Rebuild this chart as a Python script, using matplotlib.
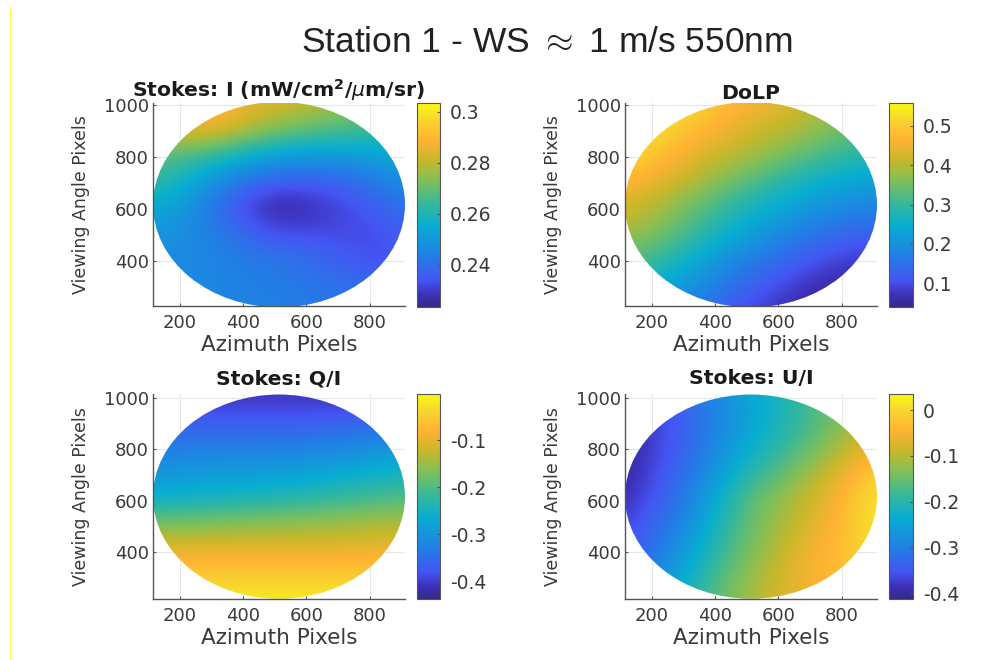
import matplotlib
matplotlib.use("Agg")
import numpy as np
import matplotlib.pyplot as plt
from matplotlib.colors import LinearSegmentedColormap
from matplotlib.patches import Ellipse
from matplotlib.lines import Line2D

plt.rcParams['font.family'] = ['DejaVu Sans']
plt.rcParams['mathtext.fontset'] = 'dejavusans'

azimuth = [115, 215, 315, 415, 515, 615, 715, 815, 915]
viewing = [1015, 915, 815, 715, 615, 515, 415, 315, 215]

stokes_i = [
    [.290, .290, .290, .287, .284, .281, .277, .273, .270],
    [.282, .288, .288, .280, .274, .270, .268, .265, .262],
    [.268, .268, .263, .258, .253, .252, .252, .254, .254],
    [.264, .258, .248, .241, .237, .237, .238, .243, .248],
    [.255, .250, .240, .231, .225, .228, .232, .236, .241],
    [.250, .247, .243, .236, .232, .232, .232, .233, .237],
    [.247, .246, .245, .243, .241, .239, .235, .233, .234],
    [.246, .246, .245, .244, .243, .241, .240, .238, .238],
    [.246, .246, .245, .245, .244, .243, .242, .241, .240],
]
dolp = [
    [.56, .55, .52, .49, .46, .44, .41, .38, .34],
    [.56, .53, .49, .46, .43, .41, .38, .35, .32],
    [.53, .49, .45, .42, .39, .36, .33, .30, .28],
    [.47, .45, .41, .37, .33, .29, .26, .24, .23],
    [.43, .40, .35, .31, .27, .24, .21, .19, .18],
    [.39, .36, .32, .27, .23, .19, .16, .14, .13],
    [.34, .31, .26, .21, .17, .14, .11, .09, .08],
    [.28, .25, .21, .17, .13, .10, .07, .06, .05],
    [.24, .20, .17, .13, .09, .07, .05, .04, .04],
]
stokes_q = [
    [-.41, -.41, -.41, -.41, -.41, -.41, -.41, -.41, -.41],
    [-.375, -.375, -.375, -.375, -.375, -.375, -.37, -.365, -.36],
    [-.33, -.33, -.33, -.33, -.33, -.325, -.32, -.31, -.30],
    [-.30, -.295, -.29, -.29, -.285, -.28, -.27, -.26, -.25],
    [-.26, -.255, -.25, -.245, -.24, -.23, -.22, -.21, -.20],
    [-.18, -.175, -.17, -.165, -.16, -.155, -.15, -.145, -.14],
    [-.10, -.10, -.10, -.10, -.10, -.10, -.10, -.095, -.09],
    [-.055, -.055, -.055, -.055, -.055, -.055, -.055, -.055, -.055],
    [-.01, -.01, -.01, -.01, -.01, -.01, -.01, -.01, -.01],
]
stokes_u = [
    [-.38, -.37, -.33, -.28, -.24, -.21, -.17, -.14, -.10],
    [-.40, -.37, -.33, -.29, -.25, -.21, -.17, -.13, -.09],
    [-.40, -.37, -.33, -.28, -.23, -.19, -.15, -.10, -.05],
    [-.40, -.36, -.32, -.26, -.20, -.16, -.11, -.06, -.01],
    [-.39, -.35, -.30, -.23, -.16, -.12, -.08, -.04, .02],
    [-.37, -.33, -.28, -.21, -.15, -.11, -.07, -.03, .02],
    [-.36, -.31, -.26, -.19, -.14, -.09, -.05, -.03, .02],
    [-.34, -.29, -.23, -.17, -.12, -.08, -.05, -.03, .01],
    [-.32, -.27, -.21, -.15, -.11, -.07, -.05, -.03, .00],
]

titles = ['Stokes: I (mW/cm$^{\\mathbf{2}}$/$\\mu$m/sr)', 'DoLP', 'Stokes: Q/I', 'Stokes: U/I']
suptitle = 'Station 1 - WS $\\approx$ 1 m/s 550nm'
fields = [stokes_i, dolp, stokes_q, stokes_u]
limits = [(.2235, .3034), (.039, .5585), (-.437, -.002), (-.412, .035)]
cbar_ticks = [[.24, .26, .28, .30], [.1, .2, .3, .4, .5],
              [-.4, -.3, -.2, -.1], [-.4, -.3, -.2, -.1, 0]]
cbar_labels = [['0.24', '0.26', '0.28', '0.3'], ['0.1', '0.2', '0.3', '0.4', '0.5'],
               ['-0.4', '-0.3', '-0.2', '-0.1'], ['-0.4', '-0.3', '-0.2', '-0.1', '0']]

W, H = 984, 660
boxes = [(153, 405, 103, 306), (625, 877, 103, 306), (153, 405, 394, 599), (625, 877, 394, 599)]
cboxes = [(417, 440, 103, 307), (889, 913, 103, 307), (417, 440, 394, 599), (889, 913, 394, 599)]
ylims = [(225, 1008), (225, 1008), (219, 1014), (219, 1014)]
title_pads = [3, 3, 7, 7]

parula = LinearSegmentedColormap.from_list('parula', [
    (0.00, (.208, .166, .529)), (0.06, (.24, .19, .72)), (0.13, (.27, .33, .95)),
    (0.25, (.13, .50, .90)), (0.40, (.03, .68, .82)), (0.50, (.20, .72, .62)),
    (0.62, (.50, .75, .35)), (0.72, (.78, .72, .17)), (0.82, (1.0, .70, .20)),
    (0.93, (.97, .85, .18)), (1.00, (.98, .98, .05))], N=256)

INK = '#3a3a3a'
fig = plt.figure(figsize=(W / 100, H / 100), dpi=100, facecolor='white')


def rect(b):
    l, r, t, bt = b
    return [l / W, 1 - bt / H, (r - l) / W, (bt - t) / H]


for k in range(4):
    ax = fig.add_axes(rect(boxes[k]))
    half_x = (azimuth[1] - azimuth[0]) / 2
    half_y = (viewing[0] - viewing[1]) / 2
    m = ax.imshow(np.array(fields[k]), cmap=parula, vmin=limits[k][0], vmax=limits[k][1],
                  origin='upper', aspect='auto', interpolation='bicubic', zorder=2,
                  extent=(azimuth[0] - half_x, azimuth[-1] + half_x,
                          viewing[-1] - half_y, viewing[0] + half_y))
    clip = Ellipse((514, 616), 2 * 398, 2 * 396, transform=ax.transData)
    m.set_clip_path(clip)
    ax.set_xlim(116, 912)
    ax.set_ylim(*ylims[k])
    ax.set_xticks([200, 400, 600, 800])
    ax.set_yticks([400, 600, 800, 1000])
    ax.grid(True, color='#e6e6e6', lw=0.8, zorder=0)
    ax.set_axisbelow(True)
    for s in ('top', 'right'):
        ax.spines[s].set_visible(False)
    for s in ('left', 'bottom'):
        ax.spines[s].set_color('#555555')
        ax.spines[s].set_linewidth(1.0)
    ax.tick_params(direction='in', length=2.5, width=0.8, color='#555555',
                   labelcolor=INK, labelsize=13, pad=6)
    ax.tick_params(axis='y', pad=3)
    ax.set_xlabel('Azimuth Pixels', fontsize=15.5, color=INK, labelpad=2)
    ax.set_ylabel('Viewing Angle Pixels', fontsize=12.5, color=INK, labelpad=10)
    ax.set_title(titles[k], fontsize=14.7, fontweight='bold', color='#1a1a1a', pad=title_pads[k])

    cax = fig.add_axes(rect(cboxes[k]))
    cb = fig.colorbar(m, cax=cax)
    cb.set_ticks(cbar_ticks[k])
    cb.set_ticklabels(cbar_labels[k])
    cb.ax.tick_params(direction='in', length=2.5, width=0.8, color='#555555',
                      labelcolor=INK, labelsize=13.5, pad=7)
    cb.outline.set_edgecolor('#555555')
    cb.outline.set_linewidth(0.8)

fig.text(547 / W, 1 - 43 / H, suptitle, fontsize=25.5, color='#222222', ha='center', va='center',
         family='Liberation Sans', math_fontfamily='cm')
fig.add_artist(Line2D([9.5 / W, 9.5 / W], [0, 1 - 8 / H], color='#ffff40', lw=0.8))
fig.savefig('out.png', dpi=100)
